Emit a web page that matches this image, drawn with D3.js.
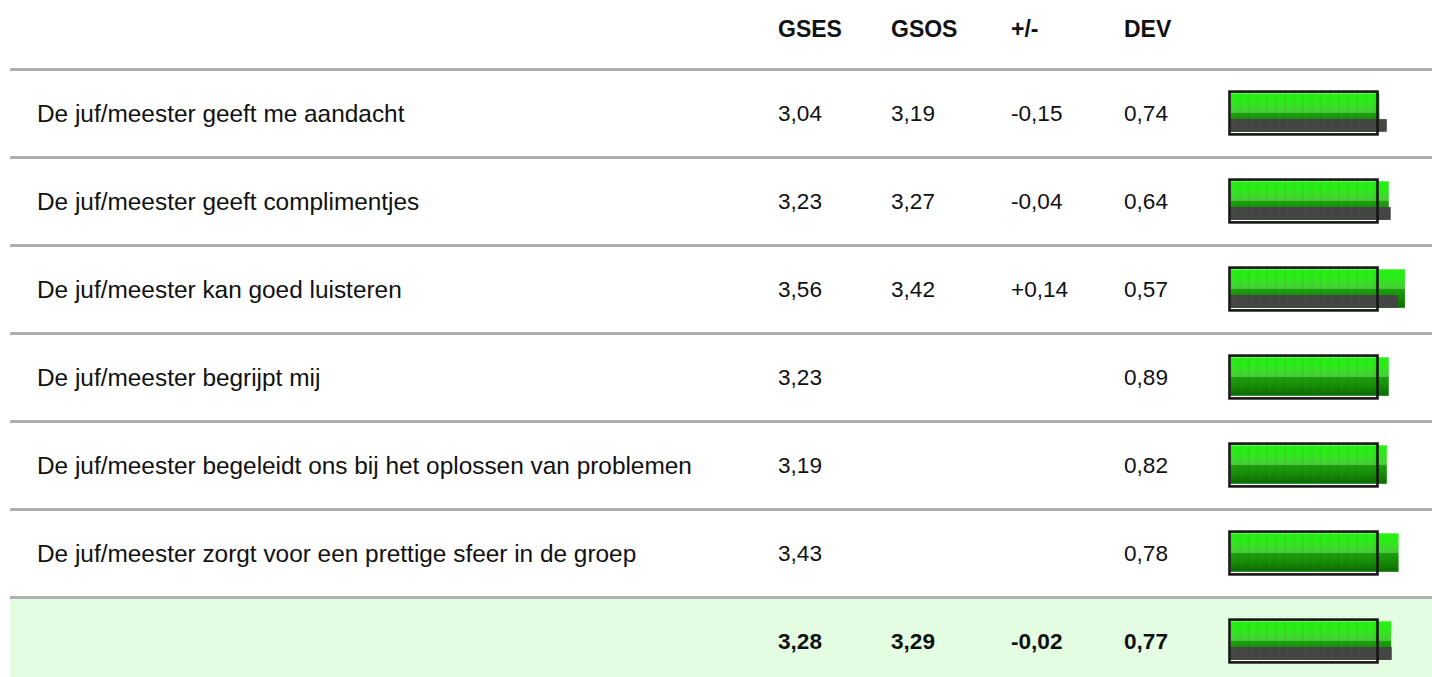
<!DOCTYPE html>
<html>
<head>
<meta charset="utf-8">
<script src="https://cdn.jsdelivr.net/npm/d3@7"></script>
<style>
  body { margin: 0; background: #fff; }
  svg { display: block; font-family: "Liberation Sans", Arial, Helvetica, sans-serif; }
</style>
</head>
<body>
<svg id="chart" width="1432" height="677"></svg>
<script>
const columns = ["GSES", "GSOS", "+/-", "DEV"];
const labels = [
  "De juf/meester geeft me aandacht",
  "De juf/meester geeft complimentjes",
  "De juf/meester kan goed luisteren",
  "De juf/meester begrijpt mij",
  "De juf/meester begeleidt ons bij het oplossen van problemen",
  "De juf/meester zorgt voor een prettige sfeer in de groep"
];
const gses = [3.04, 3.23, 3.56, 3.23, 3.19, 3.43];
const gsos = [3.19, 3.27, 3.42, null, null, null];
const diff = [-0.15, -0.04, 0.14, null, null, null];
const dev = [0.74, 0.64, 0.57, 0.89, 0.82, 0.78];
const total = { gses: 3.28, gsos: 3.29, diff: -0.02, dev: 0.77 };

(function() {
  const svg = d3.select("#chart");
  const W = 1432;
  const rowH = 88;
  const firstLine = 68;
  const labelFs = 24.4, valueFs = 22.6, headFs = 23;

  const nl = d3.formatLocale({ decimal: ",", thousands: ".", grouping: [3], currency: ["", ""], minus: "-" });
  const fmt = nl.format(".2f");
  const fmtSign = nl.format("+.2f");

  const colX = [778, 891, 1011, 1124];
  const x = d3.scaleLinear().domain([0, 4]).range([1230.5, 1426.5]);

  const rows = labels.map((l, i) => ({
    label: l, gses: gses[i], gsos: gsos[i], diff: diff[i], dev: dev[i], total: false
  }));
  rows.push({ label: "", gses: total.gses, gsos: total.gsos, diff: total.diff, dev: total.dev, total: true });

  const defs = svg.append("defs");
  const grad = defs.append("linearGradient").attr("id", "greenGrad")
    .attr("gradientUnits", "userSpaceOnUse")
    .attr("x1", 0).attr("x2", 0).attr("y1", 0).attr("y2", 38.5);
  [[0, "#24f311"], [0.2, "#2aec18"], [0.46, "#44d234"], [0.5, "#40c832"],
   [0.515, "#1f9f0f"], [0.75, "#148b06"], [1, "#0a6c00"]].forEach(s =>
    grad.append("stop").attr("offset", s[0]).attr("stop-color", s[1]));

  const pat = defs.append("pattern").attr("id", "stripes")
    .attr("patternUnits", "userSpaceOnUse").attr("width", 9).attr("height", 40)
    .attr("x", x(0));
  pat.append("rect").attr("x", 0).attr("width", 1.5).attr("height", 40).attr("fill", "#000").attr("opacity", 0.07);
  pat.append("rect").attr("x", 1.5).attr("width", 1).attr("height", 40).attr("fill", "#fff").attr("opacity", 0.05);

  // total background
  svg.append("rect")
    .attr("x", 10).attr("y", firstLine + rowH * 6 + 3)
    .attr("width", W - 10).attr("height", 677 - (firstLine + rowH * 6 + 3))
    .attr("fill", "#e4fde2");

  // separators
  svg.selectAll("rect.sep").data(d3.range(7)).enter().append("rect")
    .attr("class", "sep")
    .attr("x", 10).attr("y", i => firstLine + rowH * i)
    .attr("width", W - 10).attr("height", 3)
    .attr("fill", "#b0b0b0");

  // header
  svg.selectAll("text.head").data(columns).enter().append("text")
    .attr("class", "head")
    .attr("x", (d, i) => colX[i]).attr("y", 29)
    .attr("dy", "0.35em")
    .attr("font-size", headFs).attr("font-weight", "bold").attr("fill", "#111")
    .text(d => d);

  const g = svg.selectAll("g.row").data(rows).enter().append("g")
    .attr("class", "row")
    .attr("transform", (d, i) => `translate(0,${firstLine + 3 + rowH * i + 42.5})`);

  g.append("text")
    .attr("x", 37).attr("dy", "0.35em")
    .attr("font-size", labelFs).attr("fill", "#111")
    .text(d => d.label);

  const cells = d => [
    d.gses != null ? fmt(d.gses) : "",
    d.gsos != null ? fmt(d.gsos) : "",
    d.diff != null ? fmtSign(d.diff) : "",
    d.dev != null ? fmt(d.dev) : ""
  ];
  g.each(function(d) {
    const row = d3.select(this);
    cells(d).forEach((t, j) => {
      row.append("text")
        .attr("x", colX[j]).attr("dy", "0.35em")
        .attr("font-size", valueFs).attr("fill", "#111")
        .attr("font-weight", d.total ? "bold" : null)
        .text(t);
    });
  });

  // bars
  const barH = 38.5;
  const barTop = -20.2;
  const grayTop = barTop + barH * 0.67;

  const bar = g.append("g").attr("transform", `translate(0,${barTop})`);

  bar.append("rect")
    .attr("x", x(0) - 1).attr("y", -1.7)
    .attr("width", x(3) - x(0) + 1).attr("height", barH + 4.3)
    .attr("fill", "#fff");

  bar.append("rect")
    .attr("x", x(0)).attr("y", 0)
    .attr("width", d => x(d.gses) - x(0)).attr("height", barH)
    .attr("fill", "url(#greenGrad)");

  bar.filter(d => d.gsos != null).append("rect")
    .attr("x", x(0)).attr("y", grayTop - barTop)
    .attr("width", d => x(d.gsos) - x(0)).attr("height", barH - (grayTop - barTop))
    .attr("fill", "#454545");

  bar.append("rect")
    .attr("x", x(0)).attr("y", 0)
    .attr("width", x(3) - x(0)).attr("height", barH)
    .attr("fill", "url(#stripes)");

  bar.append("rect")
    .attr("x", x(0) - 1).attr("y", -1.7)
    .attr("width", x(3) - x(0) + 1).attr("height", barH + 4.3)
    .attr("fill", "none").attr("stroke", "#161616").attr("stroke-width", 2.6);
})();
</script>
</body>
</html>
